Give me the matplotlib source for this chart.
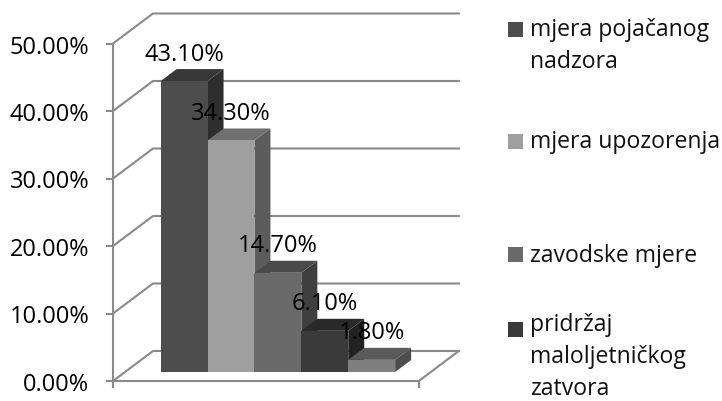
import matplotlib
matplotlib.use("Agg")
import matplotlib.pyplot as plt
from matplotlib.patches import Polygon, Rectangle
from matplotlib.ticker import FuncFormatter

plt.rcParams['font.family'] = ['Open Sans', 'DejaVu Sans']

values = [43.1, 34.3, 14.7, 6.1, 1.8]
value_labels = ['43.10%', '34.30%', '14.70%', '6.10%', '1.80%']
y_ticks = [0, 10, 20, 30, 40, 50]
legend_labels = ['mjera pojačanog\nnadzora', 'mjera upozorenja', 'zavodske mjere',
                 'pridržaj\nmaloljetničkog\nzatvora']
front_colors = ['#4d4d4d', '#9f9f9f', '#6a6a6a', '#3a3a3a', '#7f7f7f']
top_colors = ['#383838', '#6f6f6f', '#4a4a4a', '#292929', '#5a5a5a']
side_colors = ['#2e2e2e', '#5c5c5c', '#3f3f3f', '#222222', '#4d4d4d']

GRAY = '#8a8a8a'
LW = 1.5
W, H = 722, 402
PX_X = 46.9   # pixels per category
PX_Y = 6.75   # pixels per percent
X0 = -1.26    # left end of the floor
X1 = 5.26     # right end of the floor
DX = 40 / PX_X  # full depth of the box
DY = 30 / PX_Y
BAR_D0 = 0.3    # where the bars sit in the depth
BAR_D = 0.4


def leg_x(px):
    return X0 + (px - 113) / PX_X


def leg_y(py):
    return (382 - py) / PX_Y


fig = plt.figure(figsize=(W / 100, H / 100), dpi=100)
ax = fig.add_axes([0, 0, 1, 1])
ax.set_xlim(leg_x(0), leg_x(W))
ax.set_ylim(leg_y(H), leg_y(0))
ax.patch.set_visible(False)

for s in ['top', 'right']:
    ax.spines[s].set_visible(False)
ax.spines['left'].set_position(('data', X0))
ax.spines['left'].set_bounds(0, 50)
ax.spines['bottom'].set_position(('data', 0))
ax.spines['bottom'].set_bounds(X0, X1)
for s in ['left', 'bottom']:
    ax.spines[s].set_color(GRAY)
    ax.spines[s].set_linewidth(LW)

ax.set_yticks(y_ticks)
ax.yaxis.set_major_formatter(FuncFormatter(lambda v, p: f'{v:.2f}%'))
ax.set_xticks([X0, X1])
ax.set_xticklabels(['', ''])
ax.tick_params(axis='both', color=GRAY, width=LW, length=5, labelsize=17, labelcolor='black')
ax.tick_params(axis='y', pad=12)

# back wall gridlines and the slanted joins
for t in y_ticks:
    ax.plot([X0, X0 + DX, X1 + DX], [t, t + DY, t + DY], color=GRAY, lw=LW, zorder=1,
            solid_joinstyle='miter')
ax.plot([X1, X1 + DX], [0, DY], color=GRAY, lw=LW, zorder=1)

# bars, left to right so each front hides the previous side
for i, v in enumerate(values):
    left = i - 0.5 + BAR_D0 * DX
    right = i + 0.5 + BAR_D0 * DX
    base = BAR_D0 * DY
    top = base + v
    ox, oy = BAR_D * DX, BAR_D * DY
    ax.add_patch(Polygon([(right, base), (right + ox, base + oy), (right + ox, top + oy), (right, top)],
                         fc=side_colors[i], ec='none', zorder=3 + i))
    ax.add_patch(Polygon([(left, top), (left + ox, top + oy), (right + ox, top + oy), (right, top)],
                         fc=top_colors[i], ec='none', zorder=3 + i))
    ax.add_patch(Rectangle((left, base), 1, v, fc=front_colors[i], ec='none', zorder=3 + i))
    ax.text(i + BAR_D0 * DX, top + 4.08, value_labels[i], ha='center', va='center',
            fontsize=17, color='black', zorder=20)

# legend, placed by hand to keep Excel's uneven spacing
legend_y = [30, 142.5, 255.5, 330]
legend_text_top = [18, 130.5, 243.5, 313]
for lab, py, ty, col in zip(legend_labels, legend_y, legend_text_top, front_colors):
    fig.patches.append(Rectangle((508 / W, 1 - (py + 7.5) / H), 15 / W, 15 / H, fc=col, ec='none',
                                 transform=fig.transFigure))
    fig.text(530 / W, 1 - ty / H, lab, ha='left', va='top', fontsize=16.6,
             color='#111111', linespacing=1.45)

fig.savefig('out.png', dpi=100)
